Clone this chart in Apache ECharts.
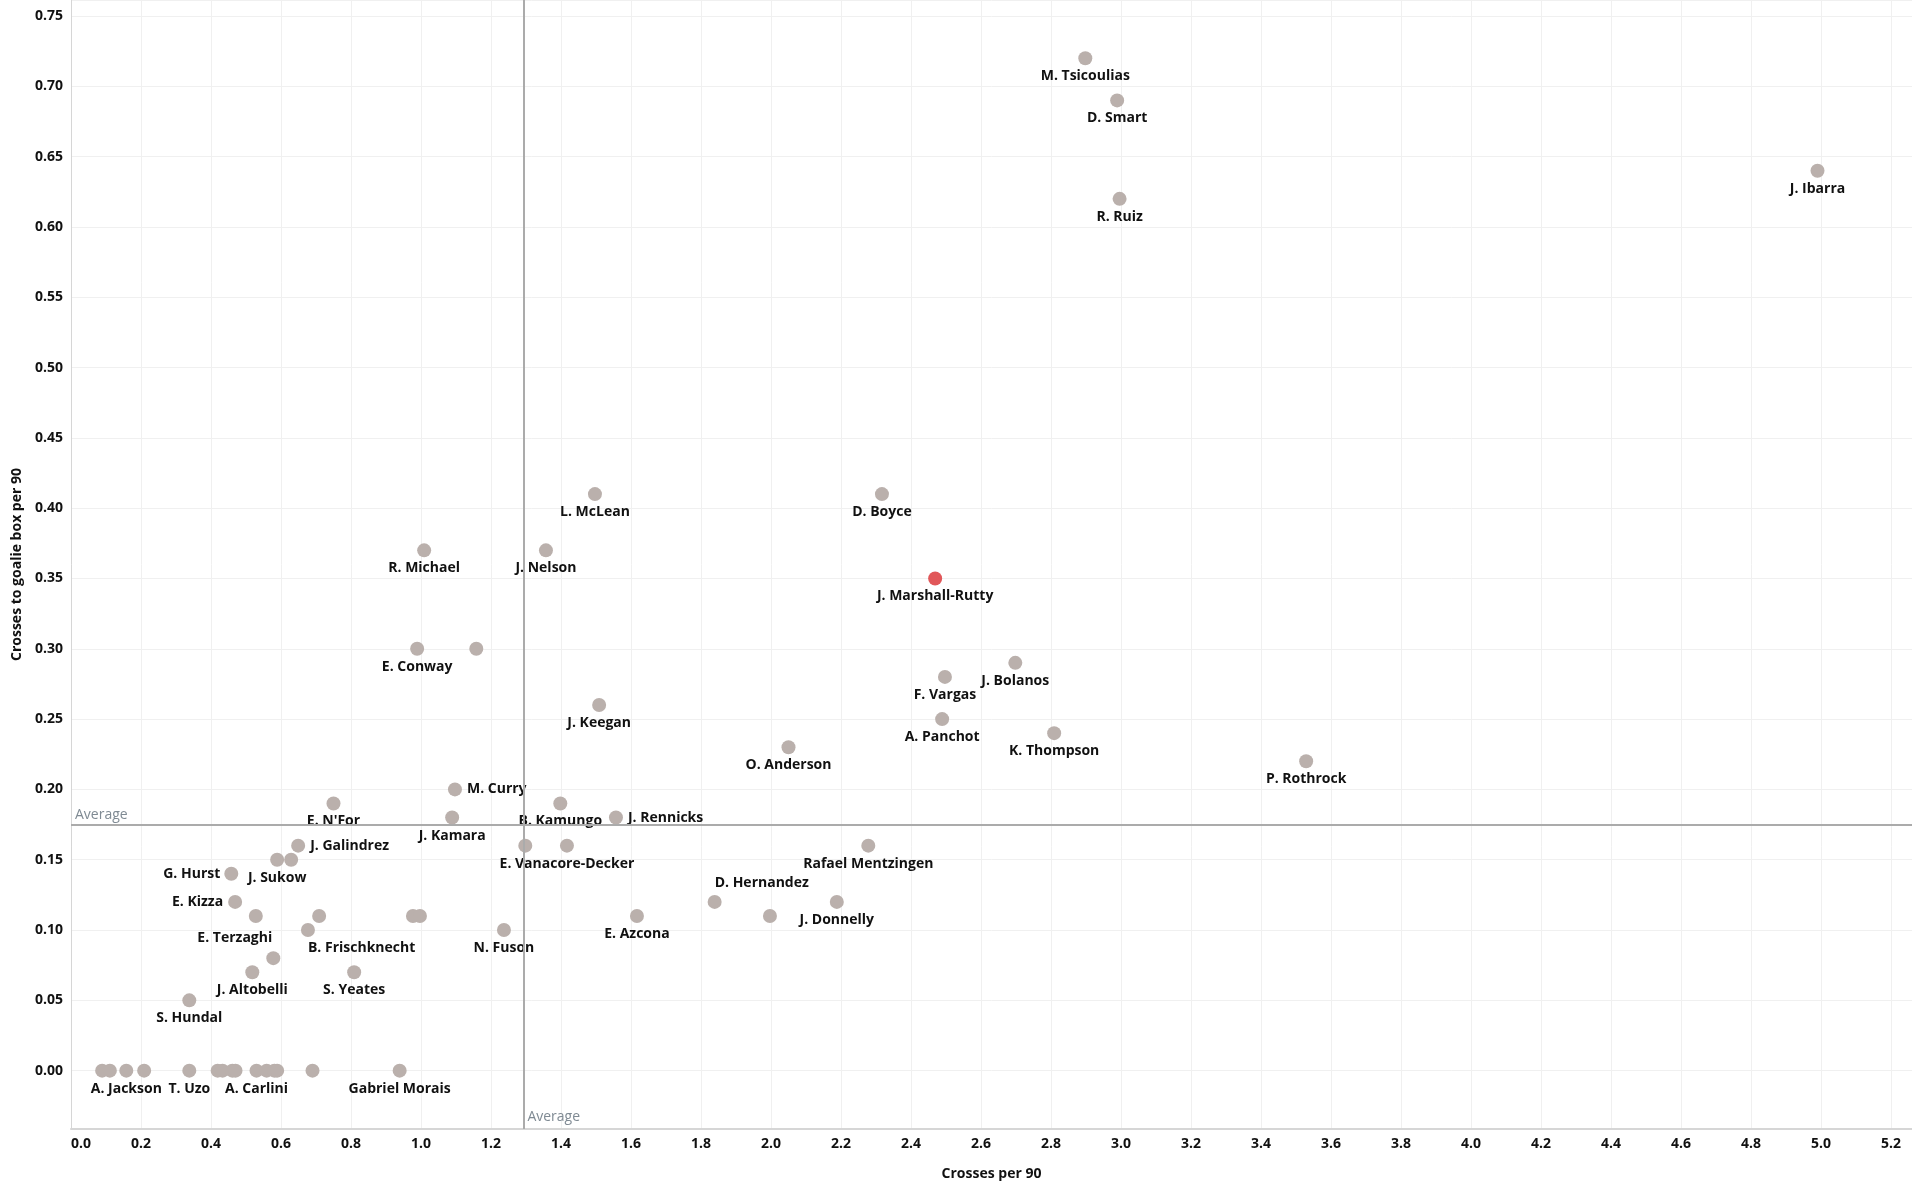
<!DOCTYPE html>
<html>
<head>
<meta charset="utf-8">
<title>Crosses per 90</title>
<script src="https://cdn.jsdelivr.net/npm/echarts@6/dist/echarts.min.js"></script>
<style>
  html, body { margin: 0; padding: 0; background: #fff; }
  #chart { width: 1912px; height: 1188px; }
</style>
</head>
<body>
<div id="chart"></div>
<script>
  // one entry per player, '' = dot with no label
  var players = [
    'M. Tsicoulias', 'D. Smart', 'R. Ruiz', 'J. Ibarra', 'L. McLean', 'D. Boyce',
    'R. Michael', 'J. Nelson', 'J. Marshall-Rutty', 'E. Conway', '', 'J. Bolanos',
    'F. Vargas', 'A. Panchot', 'K. Thompson', 'J. Keegan', 'O. Anderson', 'P. Rothrock',
    'M. Curry', "E. N'For", 'B. Kamungo', 'J. Kamara', 'J. Rennicks', '',
    'E. Vanacore-Decker', 'Rafael Mentzingen', 'J. Galindrez', 'J. Sukow', '', 'G. Hurst',
    'E. Kizza', 'E. Terzaghi', '', 'B. Frischknecht', '', '',
    'N. Fuson', 'E. Azcona', 'D. Hernandez', '', 'J. Donnelly', '',
    'J. Altobelli', 'S. Yeates', 'S. Hundal',
    '', '', 'A. Jackson', '', 'T. Uzo', '', '', '', '', 'A. Carlini', '', '', '', '', 'Gabriel Morais'
  ];
  var crossesPer90 = [
    2.898, 2.989, 2.996, 4.990, 1.497, 2.317,
    1.009, 1.357, 2.469, 0.989, 1.158, 2.698,
    2.497, 2.489, 2.809, 1.509, 2.050, 3.529,
    1.097, 0.750, 1.398, 1.089, 1.557, 1.298,
    1.417, 2.278, 0.649, 0.589, 0.629, 0.458,
    0.469, 0.528, 0.709, 0.677, 0.977, 0.997,
    1.237, 1.617, 1.839, 1.997, 2.188, 0.578,
    0.518, 0.809, 0.338,
    0.089, 0.111, 0.158, 0.209, 0.338, 0.419, 0.433, 0.461, 0.470, 0.530, 0.559, 0.581, 0.589, 0.690, 0.939
  ];
  var boxCrossesPer90 = [
    0.72, 0.69, 0.62, 0.64, 0.41, 0.41,
    0.37, 0.37, 0.35, 0.30, 0.30, 0.29,
    0.28, 0.25, 0.24, 0.26, 0.23, 0.22,
    0.20, 0.19, 0.19, 0.18, 0.18, 0.16,
    0.16, 0.16, 0.16, 0.15, 0.15, 0.14,
    0.12, 0.11, 0.11, 0.10, 0.11, 0.11,
    0.10, 0.11, 0.12, 0.11, 0.12, 0.08,
    0.07, 0.07, 0.05,
    0, 0, 0, 0, 0, 0, 0, 0, 0, 0, 0, 0, 0, 0, 0
  ];
  var highlightPlayer = 'J. Marshall-Rutty';
  var averageCrosses = 1.294;
  var averageBoxCrosses = 0.1747;

  var xMin = 0, xMax = 5.26;
  var yMin = -0.0415, yMax = 0.7614;

  var fontFam = '"Open Sans", Lato, sans-serif';
  var grey = '#bab0ac';
  var red = '#e15759';

  // labels that Tableau pushed off the default "below" spot
  var labelSpots = {
    'M. Curry': { position: 'right', distance: 5 },
    'J. Rennicks': { position: 'right', distance: 5 },
    'J. Galindrez': { position: 'right', distance: 5 },
    'G. Hurst': { position: 'left', distance: 4 },
    'E. Kizza': { position: 'left', distance: 5 },
    'E. Terzaghi': { position: [-14, 29], align: 'center', verticalAlign: 'middle' },
    'B. Frischknecht': { position: [7, 25], align: 'left', verticalAlign: 'middle' },
    'D. Hernandez': { position: [7, -12], align: 'left', verticalAlign: 'middle' }
  };

  var points = players.map(function (name, i) {
    var item = {
      name: name,
      value: [crossesPer90[i], boxCrossesPer90[i]]
    };
    if (name === highlightPlayer) {
      item.itemStyle = { color: red };
    }
    if (labelSpots[name]) {
      item.label = labelSpots[name];
    }
    return item;
  });

  var chart = echarts.init(document.getElementById('chart'));

  var option = {
    animation: false,
    backgroundColor: '#fff',
    textStyle: { fontFamily: fontFam },
    grid: {
      left: 71,
      right: 0,
      top: 0,
      bottom: 59,
      containLabel: false
    },
    xAxis: {
      type: 'value',
      min: xMin,
      max: xMax,
      interval: 0.2,
      name: 'Crosses per 90',
      nameLocation: 'middle',
      nameGap: 38,
      nameTextStyle: { fontFamily: fontFam, fontWeight: 'bold', fontSize: 14, color: '#111' },
      axisLine: { show: true, onZero: false, lineStyle: { color: '#d6d6d6', width: 2 } },
      axisTick: { show: false },
      axisLabel: {
        fontFamily: fontFam, fontWeight: 'bold', fontSize: 14, color: '#111', margin: 8,
        showMaxLabel: false,
        alignMinLabel: 'left',
        formatter: function (v) { return v.toFixed(1); }
      },
      splitLine: { show: true, lineStyle: { color: '#f0f0f0', width: 1 } }
    },
    yAxis: {
      type: 'value',
      min: yMin,
      max: yMax,
      splitNumber: 16,
      name: 'Crosses to goalie box per 90',
      nameLocation: 'middle',
      nameGap: 46,
      nameTextStyle: { fontFamily: fontFam, fontWeight: 'bold', fontSize: 14, color: '#111' },
      axisLine: { show: true, onZero: false, lineStyle: { color: '#d6d6d6', width: 1 } },
      axisTick: { show: false },
      axisLabel: {
        fontFamily: fontFam, fontWeight: 'bold', fontSize: 14, color: '#111', margin: 8,
        showMinLabel: false,
        showMaxLabel: false,
        formatter: function (v) { return v.toFixed(2); }
      },
      splitLine: { show: true, lineStyle: { color: '#f0f0f0', width: 1 } }
    },
    series: [
      {
        type: 'scatter',
        symbolSize: 14,
        itemStyle: { color: grey, opacity: 1 },
        label: {
          show: true,
          position: 'bottom',
          distance: 4,
          fontFamily: fontFam,
          fontWeight: 'bold',
          fontSize: 14,
          color: '#111',
          formatter: function (p) { return p.name; }
        },
        labelLayout: { hideOverlap: false },
        data: points,
        markLine: {
          silent: true,
          precision: 4,
          symbol: ['none', 'none'],
          lineStyle: { color: '#ababab', width: 2, type: 'solid' },
          label: { show: false },
          data: [
            {
              yAxis: averageBoxCrosses,
              label: {
                show: true,
                formatter: 'Average',
                position: 'insideStartTop',
                distance: [4, 3],
                fontFamily: fontFam,
                fontSize: 14,
                color: '#7f8a93'
              }
            },
            { xAxis: averageCrosses }
          ]
        },
        markPoint: {
          silent: true,
          symbol: 'rect',
          symbolSize: 1,
          itemStyle: { color: 'rgba(0,0,0,0)' },
          label: {
            show: true,
            formatter: 'Average',
            position: [4, -11],
            align: 'left',
            verticalAlign: 'middle',
            fontFamily: fontFam,
            fontSize: 14,
            color: '#7f8a93'
          },
          data: [{ coord: [averageCrosses, yMin] }]
        }
      }
    ]
  };

  chart.setOption(option);
</script>
</body>
</html>
